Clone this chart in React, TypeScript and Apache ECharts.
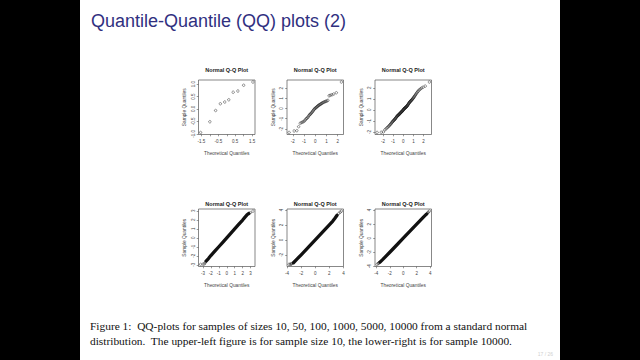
import React, { useEffect, useRef } from "react";
import * as echarts from "echarts";

const slideTitle = "Quantile-Quantile (QQ) plots (2)";
const plotTitle = "Normal Q-Q Plot";
const xAxisName = "Theoretical Quantiles";
const yAxisName = "Sample Quantiles";
const captionLine1 =
  "Figure 1:  QQ-plots for samples of sizes 10, 50, 100, 1000, 5000, 10000 from a standard normal";
const captionLine2 =
  "distribution.  The upper-left figure is for sample size 10, the lower-right is for sample 10000.";
const pageLabel = "17 / 26";

// n = 10
const theo10 = [-1.55, -1.0, -0.66, -0.38, -0.12, 0.12, 0.38, 0.66, 1.0, 1.55];
const samp10 = [-0.94, -0.51, -0.06, 0.21, 0.28, 0.37, 0.67, 0.72, 0.95, 1.08];

// n = 50
const theo50 = [
  -2.33, -1.88, -1.64, -1.48, -1.34, -1.23, -1.13, -1.04, -0.95, -0.88,
  -0.81, -0.74, -0.67, -0.61, -0.55, -0.5, -0.44, -0.39, -0.33, -0.28,
  -0.23, -0.18, -0.13, -0.08, -0.03, 0.03, 0.08, 0.13, 0.18, 0.23,
  0.28, 0.33, 0.39, 0.44, 0.5, 0.55, 0.61, 0.67, 0.74, 0.81,
  0.88, 0.95, 1.04, 1.13, 1.23, 1.34, 1.48, 1.64, 1.88, 2.33,
];
const samp50 = [
  -2.35, -2.2, -2.17, -1.78, -1.45, -1.38, -1.33, -1.28, -1.2, -1.1,
  -1.0, -0.95, -0.88, -0.78, -0.68, -0.6, -0.55, -0.5, -0.42, -0.35,
  -0.28, -0.2, -0.12, -0.05, 0.0, 0.05, 0.1, 0.15, 0.2, 0.24,
  0.3, 0.33, 0.37, 0.41, 0.45, 0.49, 0.53, 0.57, 0.61, 0.65,
  0.68, 0.71, 0.74, 0.8, 1.25, 1.3, 1.35, 1.42, 1.55, 2.6,
];

// n = 100
const theo100 = [
  -2.58, -2.17, -1.96, -1.81, -1.7, -1.6, -1.51, -1.44, -1.37, -1.31,
  -1.25, -1.2, -1.15, -1.1, -1.06, -1.02, -0.97, -0.93, -0.9, -0.86,
  -0.82, -0.79, -0.76, -0.72, -0.69, -0.66, -0.63, -0.6, -0.57, -0.54,
  -0.51, -0.48, -0.45, -0.43, -0.4, -0.37, -0.35, -0.32, -0.29, -0.27,
  -0.24, -0.21, -0.19, -0.16, -0.14, -0.11, -0.09, -0.06, -0.04, -0.01,
  0.01, 0.04, 0.06, 0.09, 0.11, 0.14, 0.16, 0.19, 0.21, 0.24,
  0.27, 0.29, 0.32, 0.35, 0.37, 0.4, 0.43, 0.45, 0.48, 0.51,
  0.54, 0.57, 0.6, 0.63, 0.66, 0.69, 0.72, 0.76, 0.79, 0.82,
  0.86, 0.9, 0.93, 0.97, 1.02, 1.06, 1.1, 1.15, 1.2, 1.25,
  1.31, 1.37, 1.44, 1.51, 1.6, 1.7, 1.81, 1.96, 2.17, 2.58,
];
const samp100 = [
  -2.05, -2.03, -2.0, -1.8, -1.72, -1.62, -1.55, -1.5, -1.42, -1.35,
  -1.3, -1.24, -1.18, -1.12, -1.08, -1.03, -0.98, -0.95, -0.92, -0.88,
  -0.84, -0.8, -0.76, -0.72, -0.68, -0.64, -0.6, -0.57, -0.54, -0.52,
  -0.5, -0.47, -0.44, -0.42, -0.4, -0.37, -0.35, -0.33, -0.3, -0.27,
  -0.24, -0.21, -0.19, -0.17, -0.15, -0.13, -0.11, -0.08, -0.05, -0.02,
  0.01, 0.04, 0.07, 0.1, 0.12, 0.14, 0.16, 0.18, 0.2, 0.22,
  0.24, 0.26, 0.29, 0.32, 0.35, 0.38, 0.41, 0.45, 0.49, 0.53,
  0.57, 0.61, 0.65, 0.69, 0.73, 0.76, 0.79, 0.82, 0.85, 0.88,
  0.92, 0.96, 1.0, 1.05, 1.1, 1.16, 1.22, 1.28, 1.35, 1.42,
  1.5, 1.58, 1.66, 1.74, 1.82, 1.9, 1.98, 2.05, 2.15, 2.52,
];

// n = 1000 (dense band + visible tail points)
const band1000 = [
  [-2.6, -2.58], [-2.3, -2.3], [-2.0, -1.97], [-1.5, -1.48], [-1.0, -0.99],
  [-0.5, -0.5], [0.0, 0.0], [0.5, 0.5], [1.0, 1.0], [1.5, 1.5],
  [2.0, 1.98], [2.3, 2.3], [2.6, 2.6], [2.75, 2.7],
];
const tails1000 = [
  [-3.29, -2.95], [-2.97, -2.93], [-2.81, -2.9], [-2.7, -2.75],
  [2.81, 2.72], [2.97, 2.8], [3.29, 2.97],
];

// n = 5000
const band5000 = [
  [-3.1, -3.05], [-2.5, -2.48], [-2.0, -1.99], [-1.0, -1.0], [0.0, 0.0],
  [1.0, 1.0], [2.0, 2.0], [2.5, 2.52], [2.8, 2.9], [3.1, 3.3],
];
const tails5000 = [
  [-3.72, -3.27], [-3.54, -3.25], [-3.43, -3.24], [-3.35, -3.18],
  [3.35, 3.55], [3.54, 3.7], [3.72, 3.85],
];

// n = 10000
const band10000 = [
  [-3.45, -3.4], [-3.0, -2.98], [-2.0, -2.0], [-1.0, -1.0], [0.0, 0.0],
  [1.0, 1.0], [2.0, 2.0], [3.0, 3.0], [3.45, 3.42],
];
const tails10000 = [
  [-3.89, -3.72], [-3.72, -3.6], [-3.62, -3.5], [-3.54, -3.45],
  [3.54, 3.5], [3.62, 3.58], [3.72, 3.7], [3.89, 3.85],
];

// ticks
const xTicks1 = [-1.5, -1.0, -0.5, 0, 0.5, 1.0, 1.5];
const xLabels1 = [-1.5, -0.5, 0.5, 1.5];
const yTicks1 = [-1.0, -0.5, 0, 0.5, 1.0];
const ticksTwo = [-2, -1, 0, 1, 2];
const ticksThree = [-3, -2, -1, 0, 1, 2, 3];
const ticksFour = [-4, -2, 0, 2, 4];
const yTicks5000 = [-2, 0, 2, 4];

const zip = (a: number[], b: number[]) => a.map((v, i) => [v, b[i]]);

function padRange(vals: number[]) {
  const lo = Math.min(...vals);
  const hi = Math.max(...vals);
  const p = (hi - lo) * 0.04;
  return [lo - p, hi + p];
}

const SANS = "Liberation Sans";
const SERIF = "Liberation Serif";

function buildOption() {
  const colL = [198.5, 287, 375];
  const W = 56.5;
  const rows = [
    { top: 80, h: 54.5, titleY: 70 },
    { top: 209, h: 57.5, titleY: 204 },
  ];
  const plots = [
    { pts: zip(theo10, samp10), band: null as number[][] | null, xT: xTicks1, xL: xLabels1, yT: yTicks1, yL: yTicks1, dec: 1 },
    { pts: zip(theo50, samp50), band: null, xT: ticksTwo, xL: ticksTwo, yT: ticksTwo, yL: ticksTwo, dec: 0 },
    { pts: zip(theo100, samp100), band: null, xT: ticksTwo, xL: ticksTwo, yT: ticksTwo, yL: ticksTwo, dec: 0 },
    { pts: tails1000, band: band1000, xT: ticksThree, xL: ticksThree, yT: ticksThree, yL: ticksThree, dec: 0 },
    { pts: tails5000, band: band5000, xT: ticksFour, xL: ticksFour, yT: yTicks5000, yL: yTicks5000, dec: 0 },
    { pts: tails10000, band: band10000, xT: ticksFour, xL: ticksFour, yT: ticksFour, yL: ticksFour, dec: 0 },
  ];

  const grid: any[] = [];
  const xAxis: any[] = [];
  const yAxis: any[] = [];
  const series: any[] = [];
  const captionStyle = { fontSize: 11.4, fontFamily: SERIF, fill: "#111", textVerticalAlign: "middle", textAlign: "left" };
  const graphic: any[] = [
    { type: "rect", shape: { x: 0, y: 0, width: 80, height: 360 }, style: { fill: "#000" } },
    { type: "rect", shape: { x: 560, y: 0, width: 80, height: 360 }, style: { fill: "#000" } },
    {
      type: "text",
      x: 91,
      y: 21,
      style: {
        text: slideTitle,
        fontSize: 18,
        fontFamily: SANS,
        fill: "#30307f",
        textAlign: "left",
        textVerticalAlign: "middle",
      },
    },
    { type: "text", x: 90, y: 326, style: { ...captionStyle, text: captionLine1 } },
    { type: "text", x: 90, y: 341, style: { ...captionStyle, text: captionLine2 } },
    {
      type: "text",
      x: 553,
      y: 354,
      style: { text: pageLabel, fontSize: 5, fontFamily: SANS, fill: "#d0d0d0", textAlign: "right", textVerticalAlign: "middle" },
    },
  ];

  plots.forEach((p, i) => {
    const row = rows[Math.floor(i / 3)];
    const left = colL[i % 3];
    const all = p.band ? [...p.band, ...p.pts] : p.pts;
    const xr = padRange(all.map((d) => d[0]));
    const yr = padRange(all.map((d) => d[1]));
    const fmt = (v: number) => (p.dec ? Number(v).toFixed(1) : String(Math.round(v)));
    grid.push({
      left,
      top: row.top,
      width: W,
      height: row.h,
      show: true,
      borderColor: "#555",
      borderWidth: 0.7,
      backgroundColor: "transparent",
      containLabel: false,
      outerBoundsMode: "none",
    });
    xAxis.push({
      type: "value",
      gridIndex: i,
      min: xr[0],
      max: xr[1],
      position: "bottom",
      axisLine: { show: false, onZero: false },
      splitLine: { show: false },
      axisTick: { show: true, length: 1.8, lineStyle: { color: "#555", width: 0.6 }, customValues: p.xT },
      axisLabel: { customValues: p.xL, formatter: fmt, fontSize: 4.5, color: "#444", margin: 4.5, fontFamily: SANS },
      name: xAxisName,
      nameLocation: "middle",
      nameGap: 16,
      nameTextStyle: { fontSize: 4.8, color: "#444", fontFamily: SANS },
    });
    yAxis.push({
      type: "value",
      gridIndex: i,
      min: yr[0],
      max: yr[1],
      position: "left",
      axisLine: { show: false, onZero: false },
      splitLine: { show: false },
      axisTick: { show: true, length: 1.8, lineStyle: { color: "#555", width: 0.6 }, customValues: p.yT },
      axisLabel: { customValues: p.yL, formatter: fmt, fontSize: 4.5, color: "#444", margin: 2.8, rotate: 90, fontFamily: SANS },
      name: yAxisName,
      nameLocation: "middle",
      nameRotate: 90,
      nameGap: 11.5,
      nameTextStyle: { fontSize: 4.8, color: "#444", fontFamily: SANS },
    });
    if (p.band) {
      series.push({
        type: "line",
        xAxisIndex: i,
        yAxisIndex: i,
        data: p.band,
        showSymbol: false,
        symbol: "none",
        silent: true,
        lineStyle: { color: "#111", width: 3.3, cap: "round", join: "round" },
      });
    }
    series.push({
      type: "scatter",
      xAxisIndex: i,
      yAxisIndex: i,
      data: p.pts,
      symbol: "circle",
      symbolSize: 2.5,
      silent: true,
      itemStyle: { color: "rgba(0,0,0,0)", borderColor: "#222", borderWidth: 0.6 },
    });
    graphic.push({
      type: "text",
      x: left + W / 2,
      y: row.titleY,
      style: {
        text: plotTitle,
        fontSize: 5.5,
        fontWeight: "bold",
        fontFamily: SANS,
        fill: "#222",
        textAlign: "center",
        textVerticalAlign: "middle",
      },
    });
  });

  return {
    animation: false,
    backgroundColor: "#fff",
    grid,
    xAxis,
    yAxis,
    series,
    graphic,
  };
}

export default function App() {
  const ref = useRef<HTMLDivElement>(null);
  useEffect(() => {
    const chart = echarts.init(ref.current!, null, { renderer: "svg" });
    chart.setOption(buildOption() as any);
    return () => chart.dispose();
  }, []);
  return (
    <div
      ref={ref}
      style={{ position: "absolute", left: 0, top: 0, width: 640, height: 360 }}
    />
  );
}
